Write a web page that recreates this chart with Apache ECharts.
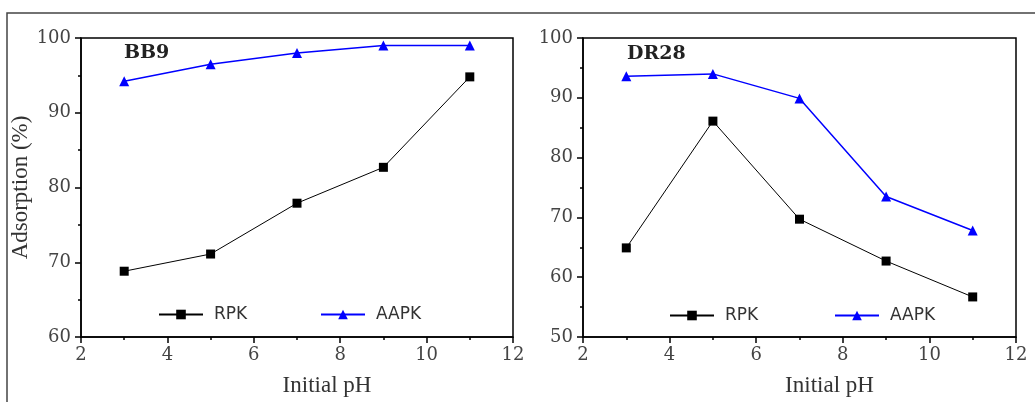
<!DOCTYPE html>
<html><head><meta charset="utf-8">
<script src="https://cdn.jsdelivr.net/npm/echarts@6/dist/echarts.min.js"></script>
<style>html,body{margin:0;padding:0;background:#fff}#c{width:1035px;height:402px}</style>
</head><body><div id="c"></div>
<script>
const phValues = [3, 5, 7, 9, 11];
const bb9RPK  = [68.8, 71.1, 77.9, 82.7, 94.8];
const bb9AAPK = [94.2, 96.5, 98.0, 99.0, 99.0];
const dr28RPK  = [64.9, 86.1, 69.7, 62.7, 56.7];
const dr28AAPK = [93.6, 94.0, 89.9, 73.5, 67.8];
const panelTitles = ['BB9', 'DR28'];
const xLabel = 'Initial pH';
const yLabel = 'Adsorption (%)';

const pair = (xs, ys) => xs.map((x, i) => [x, ys[i]]);
const tickFont = {color: '#444', fontFamily: 'DejaVu Serif', fontSize: 18};
const nameFont = {color: '#333', fontFamily: 'Liberation Serif', fontSize: 23};

function xAxis(gi) {
  return {
    gridIndex: gi, type: 'value', min: 2, max: 12, interval: 2,
    name: xLabel, nameLocation: 'middle', nameGap: 37,
    nameTextStyle: Object.assign({padding: [0, 0, 0, 60]}, nameFont),
    axisLine: {lineStyle: {color: '#000', width: 1.5}},
    axisTick: {inside: false, length: 6, lineStyle: {color: '#000', width: 1.5}},
    minorTick: {show: true, splitNumber: 2, length: 3, lineStyle: {color: '#000', width: 1.5}},
    axisLabel: Object.assign({margin: 9}, tickFont),
    splitLine: {show: false}
  };
}
function yAxis(gi, min, withName) {
  return {
    gridIndex: gi, type: 'value', min: min, max: 100, interval: 10,
    name: withName ? yLabel : '', nameLocation: 'middle', nameGap: 47,
    nameTextStyle: nameFont,
    axisLine: {lineStyle: {color: '#000', width: 1.5}},
    axisTick: {inside: false, length: 6, lineStyle: {color: '#000', width: 1.5}},
    minorTick: {show: true, splitNumber: 2, length: 3, lineStyle: {color: '#000', width: 1.5}},
    axisLabel: Object.assign({margin: 10}, tickFont),
    splitLine: {show: false}
  };
}
function lineSeries(name, gi, data, color, symbol, size, width) {
  return {
    name: name, type: 'line', xAxisIndex: gi, yAxisIndex: gi,
    data: pair(phValues, data), symbol: symbol, symbolSize: size,
    lineStyle: {color: color, width: width},
    itemStyle: {color: color}, animation: false
  };
}
function legend(name, left, top) {
  return {
    data: [name], left: left, top: top, orient: 'horizontal',
    itemWidth: 44, itemHeight: 12, padding: 0,
    textStyle: {fontFamily: 'DejaVu Sans', fontSize: 17, color: '#333', padding: [0, 0, 0, 6]},
    selectedMode: false
  };
}

const chart = echarts.init(document.getElementById('c'));
chart.setOption({
  backgroundColor: '#fff',
  animation: false,
  grid: [
    {left: 81, right: 522, top: 38, bottom: 62, show: true, borderColor: '#000', borderWidth: 1.5, backgroundColor: 'transparent'},
    {left: 583, right: 19, top: 38, bottom: 62, show: true, borderColor: '#000', borderWidth: 1.5, backgroundColor: 'transparent'}
  ],
  xAxis: [xAxis(0), xAxis(1)],
  yAxis: [yAxis(0, 60, true), yAxis(1, 50, false)],
  legend: [
    legend('RPK', 158, 306), legend('AAPK', 320, 306),
    legend('RPK', 669, 307), legend('AAPK', 834, 307)
  ],
  title: [
    {text: panelTitles[0], left: 124, top: 44, padding: 0, textStyle: {fontFamily: 'DejaVu Serif', fontWeight: 'bold', fontSize: 19, color: '#222'}},
    {text: panelTitles[1], left: 627, top: 45, padding: 0, textStyle: {fontFamily: 'DejaVu Serif', fontWeight: 'bold', fontSize: 19, color: '#222'}}
  ],
  graphic: [
    {type: 'rect', shape: {x: 7, y: 13, width: 1100, height: 500}, style: {fill: 'none', stroke: '#444', lineWidth: 1.5}, silent: true, z: -1}
  ],
  series: [
    lineSeries('RPK', 0, bb9RPK, '#000', 'rect', 9, 1),
    lineSeries('AAPK', 0, bb9AAPK, '#0000ff', 'triangle', 10, 1.5),
    lineSeries('RPK', 1, dr28RPK, '#000', 'rect', 9, 1),
    lineSeries('AAPK', 1, dr28AAPK, '#0000ff', 'triangle', 10, 1.5)
  ]
});
</script></body></html>
